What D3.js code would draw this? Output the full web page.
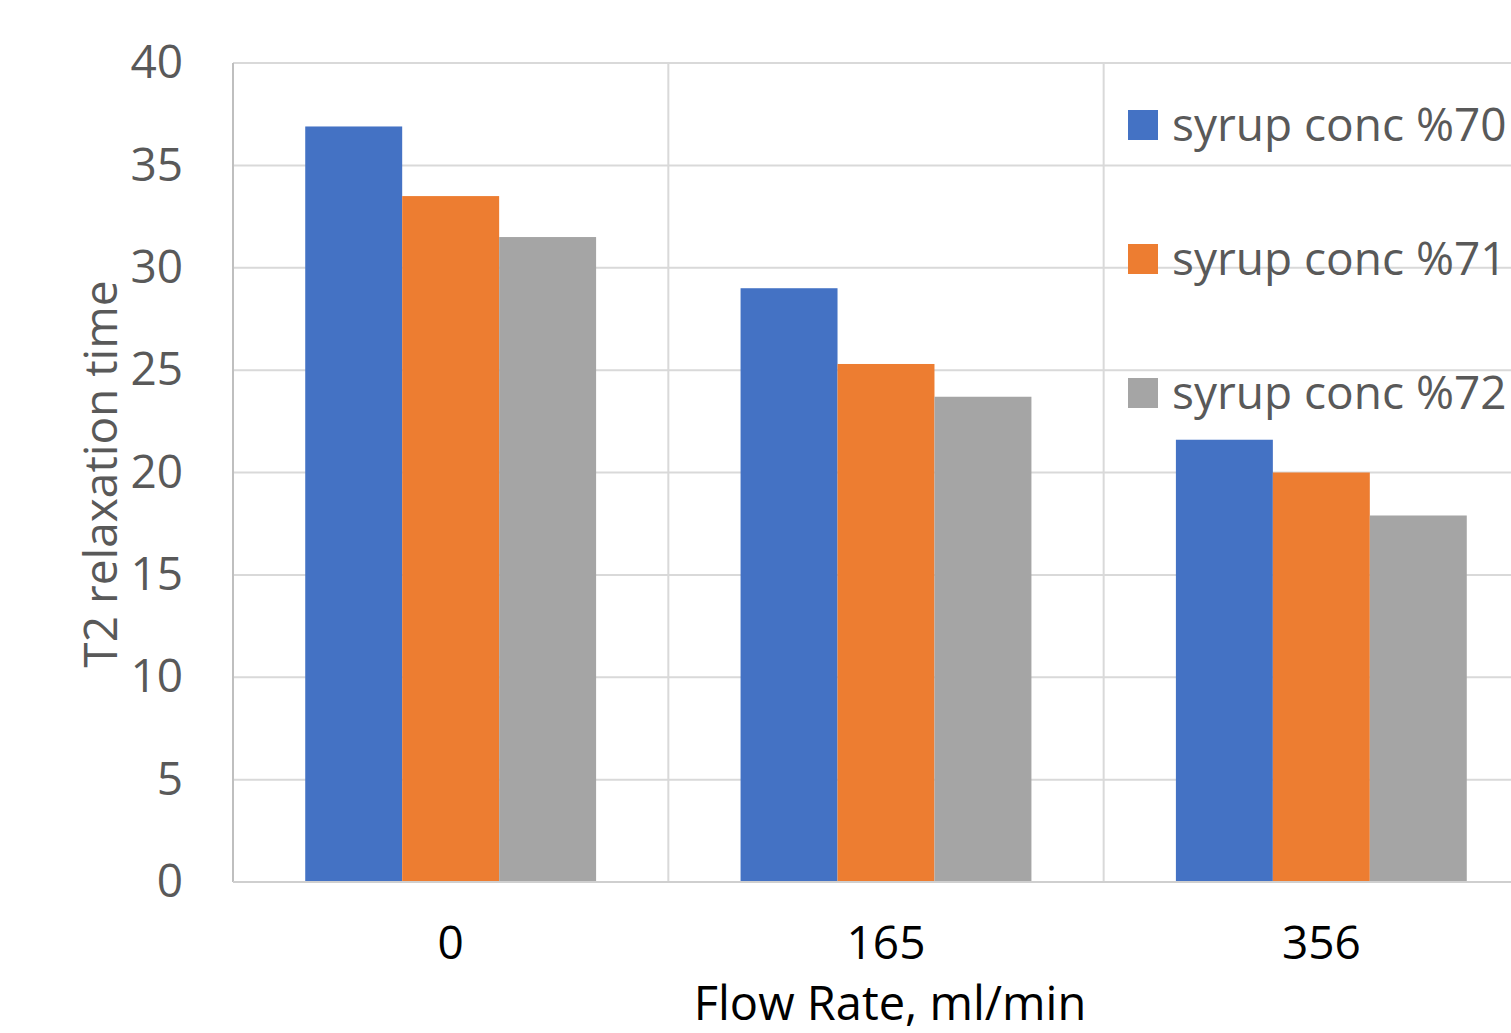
<!DOCTYPE html>
<html>
<head>
<meta charset="utf-8">
<script src="https://cdn.jsdelivr.net/npm/d3@7"></script>
<style>
  body { margin: 0; background: #fff; }
  text { font-family: "Open Sans", "Noto Sans", sans-serif; }
</style>
</head>
<body>
<svg width="1511" height="1033"></svg>
<script>
"use strict"

var flowRates = ["0", "165", "356"];
var seriesNames = ["syrup conc %70", "syrup conc %71", "syrup conc %72"];
var conc70 = [36.9, 29.0, 21.6];
var conc71 = [33.5, 25.3, 20.0];
var conc72 = [31.5, 23.7, 17.9];
var yTicks = [0, 5, 10, 15, 20, 25, 30, 35, 40];
var colors = ["#4472c4", "#ed7d31", "#a5a5a5"];

var series = [conc70, conc71, conc72];

var svg = d3.select("svg");
var plotL = 233, plotR = 1539, plotT = 63, plotB = 882;

var x = d3.scaleBand().domain(flowRates).range([plotL, plotR]).paddingInner(0).paddingOuter(0);
var xInner = d3.scaleBand().domain(seriesNames).range([0, x.bandwidth()]).paddingOuter(0.745);
var y = d3.scaleLinear().domain([0, 40]).range([plotB, plotT]);

// gridlines
var grid = svg.append("g");
grid.selectAll("line.h").data(yTicks.slice(1)).enter().append("line")
    .attr("x1", plotL).attr("x2", plotR)
    .attr("y1", function(d) { return y(d); }).attr("y2", function(d) { return y(d); })
    .attr("stroke", "#d9d9d9").attr("stroke-width", 2);
grid.selectAll("line.v").data(flowRates).enter().append("line")
    .attr("x1", function(d) { return x(d) + x.bandwidth(); })
    .attr("x2", function(d) { return x(d) + x.bandwidth(); })
    .attr("y1", plotT).attr("y2", plotB)
    .attr("stroke", "#d9d9d9").attr("stroke-width", 2);

// bars
var groups = svg.append("g").selectAll("g").data(flowRates).enter().append("g")
    .attr("transform", function(d) { return "translate(" + x(d) + ",0)"; });
groups.selectAll("rect").data(function(d, i) {
        return seriesNames.map(function(s, j) { return {name: s, value: series[j][i], k: j}; });
    }).enter().append("rect")
    .attr("x", function(d) { return xInner(d.name); })
    .attr("width", xInner.bandwidth())
    .attr("y", function(d) { return y(d.value); })
    .attr("height", function(d) { return plotB - y(d.value); })
    .attr("fill", function(d) { return colors[d.k]; });

// axis lines
svg.append("line").attr("x1", plotL).attr("x2", plotL).attr("y1", plotT).attr("y2", plotB)
    .attr("stroke", "#bfbfbf").attr("stroke-width", 2);
svg.append("line").attr("x1", plotL).attr("x2", plotR).attr("y1", plotB).attr("y2", plotB)
    .attr("stroke", "#cfcfcf").attr("stroke-width", 2);

// y axis labels
var yAxis = d3.axisLeft(y).tickValues(yTicks).tickSize(0).tickPadding(50);
var gy = svg.append("g").attr("transform", "translate(" + plotL + ",0)").call(yAxis);
gy.select(".domain").remove();
gy.selectAll("text").attr("font-size", 46).attr("fill", "#595959")
    .attr("font-family", "'Open Sans', sans-serif");

// x axis labels
var xAxis = d3.axisBottom(x).tickSize(0).tickPadding(44);
var gx = svg.append("g").attr("transform", "translate(0," + plotB + ")").call(xAxis);
gx.select(".domain").remove();
gx.selectAll("text").attr("font-size", 46).attr("fill", "#000")
    .attr("font-family", "'Open Sans', sans-serif");

// axis titles
svg.append("text").attr("x", 890).attr("y", 1020).attr("text-anchor", "middle")
    .attr("font-size", 47).attr("fill", "#000").text("Flow Rate, ml/min");
svg.append("text").attr("transform", "translate(117,474) rotate(-90)")
    .attr("text-anchor", "middle").attr("font-size", 46).attr("fill", "#595959")
    .text("T2 relaxation time");

// legend
var legend = svg.append("g").selectAll("g").data(seriesNames).enter().append("g")
    .attr("transform", function(d, i) { return "translate(1128," + (110 + i * 134) + ")"; });
legend.append("rect").attr("width", 30).attr("height", 30)
    .attr("fill", function(d, i) { return colors[i]; });
legend.append("text").attr("x", 44).attr("y", 31)
    .attr("font-size", 46).attr("fill", "#595959").text(function(d) { return d; });
</script>
</body>
</html>
